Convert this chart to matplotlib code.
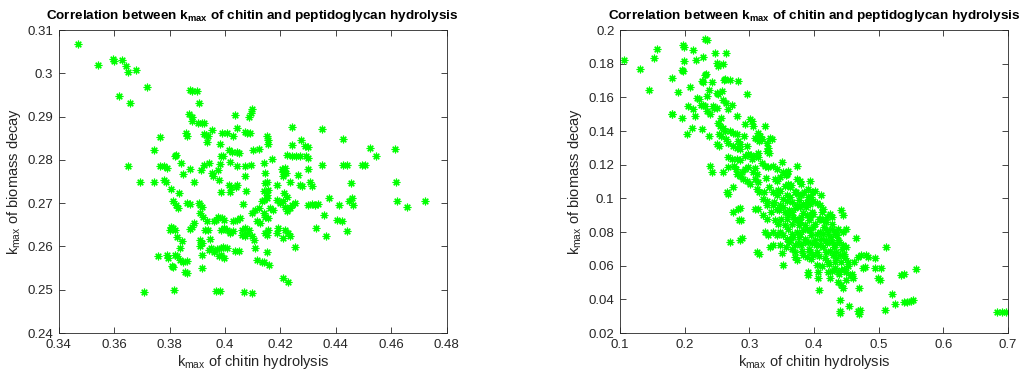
import matplotlib
matplotlib.use("Agg")
import matplotlib.pyplot as plt

plt.rcParams['font.family'] = ['Liberation Sans', 'DejaVu Sans']
plt.rcParams['mathtext.fontset'] = 'custom'
plt.rcParams['mathtext.rm'] = 'Liberation Sans'
plt.rcParams['mathtext.it'] = 'Liberation Sans'
plt.rcParams['mathtext.bf'] = 'Liberation Sans:bold'

# left panel: (chitin kmax, biomass decay kmax)
left_pts = [
    (0.3471, 0.3067), (0.354, 0.3019), (0.3597, 0.3032), (0.360, 0.3029), (0.3627, 0.3030),
    (0.3643, 0.3018), (0.365, 0.3003), (0.3678, 0.3008), (0.3617, 0.2948), (0.3659, 0.2931),
    (0.3718, 0.2968), (0.365, 0.2786), (0.3692, 0.2748), (0.3744, 0.2822), (0.3767, 0.2853),
    (0.3744, 0.2750), (0.3765, 0.2785), (0.378, 0.2785), (0.3792, 0.2782), (0.3779, 0.2753),
    (0.3786, 0.2750), (0.3804, 0.2733), (0.3822, 0.2812), (0.3818, 0.2808), (0.3834, 0.2723),
    (0.384, 0.2792), (0.385, 0.2768), (0.386, 0.2862), (0.3862, 0.2855), (0.3871, 0.2906),
    (0.388, 0.2899), (0.3882, 0.2890), (0.3873, 0.2778), (0.3874, 0.2961), (0.388, 0.2960),
    (0.3898, 0.2958), (0.3908, 0.2931), (0.3903, 0.2885), (0.3916, 0.2886), (0.3925, 0.2886),
    (0.3888, 0.2750), (0.3915, 0.2777), (0.3925, 0.2787), (0.393, 0.2858), (0.394, 0.2854),
    (0.3934, 0.2842), (0.3925, 0.2860), (0.3953, 0.2869), (0.3944, 0.2793), (0.3952, 0.2769),
    (0.3958, 0.2762), (0.3973, 0.2777), (0.3982, 0.2791), (0.398, 0.2754), (0.3982, 0.2837),
    (0.3986, 0.2808), (0.3994, 0.2808), (0.3988, 0.2862), (0.3984, 0.2725), (0.4007, 0.2862),
    (0.4014, 0.2823), (0.4024, 0.2819), (0.4043, 0.2819), (0.405, 0.2815), (0.4019, 0.2796),
    (0.403, 0.2854), (0.4035, 0.2904), (0.4043, 0.2874), (0.4045, 0.2786), (0.4015, 0.2742),
    (0.402, 0.2738), (0.404, 0.2738), (0.4045, 0.2742), (0.4019, 0.2725), (0.4072, 0.2865),
    (0.408, 0.2863), (0.409, 0.2863), (0.4074, 0.2785), (0.4074, 0.2762), (0.4093, 0.2789),
    (0.4075, 0.2729), (0.4066, 0.2698), (0.4088, 0.2900), (0.4093, 0.2908), (0.4098, 0.2918),
    (0.410, 0.2823), (0.4121, 0.2825), (0.4139, 0.2792), (0.4145, 0.2769), (0.4151, 0.2854),
    (0.4154, 0.2846), (0.4157, 0.2837), (0.4168, 0.2802), (0.4145, 0.2746), (0.4151, 0.2750),
    (0.4187, 0.2742), (0.4205, 0.2778), (0.4211, 0.2773), (0.4217, 0.2781), (0.4221, 0.2769),
    (0.4208, 0.2762), (0.4212, 0.2723), (0.4223, 0.2715), (0.4223, 0.2812), (0.4241, 0.2810),
    (0.4257, 0.2808), (0.4271, 0.2810), (0.4242, 0.2835), (0.4242, 0.2875), (0.4234, 0.2750),
    (0.4265, 0.2765), (0.4271, 0.2742), (0.4277, 0.2740), (0.4273, 0.2846), (0.4289, 0.2832),
    (0.4301, 0.2830), (0.4292, 0.2808), (0.4301, 0.2805), (0.4301, 0.2778), (0.4307, 0.2748),
    (0.4313, 0.2740), (0.435, 0.2871), (0.435, 0.2787), (0.4427, 0.2848), (0.4427, 0.2787),
    (0.4439, 0.2787), (0.4455, 0.2746), (0.4494, 0.2787), (0.4506, 0.2787), (0.4524, 0.2827),
    (0.4544, 0.2808), (0.4612, 0.2825), (0.4618, 0.2748), (0.4621, 0.2704), (0.4655, 0.2692),
    (0.4722, 0.2704), (0.4377, 0.2713), (0.4358, 0.2672), (0.4329, 0.2642), (0.4365, 0.2623),
    (0.4413, 0.2696), (0.4406, 0.2662), (0.4421, 0.2659), (0.4441, 0.2636), (0.4449, 0.2704),
    (0.4463, 0.2696), (0.4457, 0.2712), (0.4301, 0.2696), (0.4313, 0.2698), (0.4325, 0.2696),
    (0.4337, 0.2698), (0.4254, 0.2598), (0.4211, 0.2527), (0.4229, 0.2517), (0.4160, 0.2558),
    (0.4132, 0.2565), (0.4114, 0.2568), (0.4139, 0.2563), (0.4151, 0.2588), (0.411, 0.2596),
    (0.4097, 0.2623), (0.4103, 0.2615),
    (0.3814, 0.2704), (0.3823, 0.2696), (0.3832, 0.2688), (0.3862, 0.2700), (0.3874, 0.2699),
    (0.3807, 0.2646), (0.3814, 0.2642), (0.382, 0.2638), (0.3802, 0.2638), (0.3826, 0.2621),
    (0.3844, 0.2612), (0.3838, 0.2596), (0.379, 0.2581), (0.3796, 0.2573), (0.376, 0.2577),
    (0.382, 0.2581), (0.3826, 0.2577), (0.3808, 0.2554), (0.3814, 0.2552), (0.3838, 0.2569),
    (0.385, 0.2565), (0.3862, 0.2566), (0.3856, 0.2542), (0.3862, 0.2538), (0.388, 0.2646),
    (0.3874, 0.2640), (0.3888, 0.2654), (0.3906, 0.2700), (0.391, 0.2696), (0.3916, 0.2692),
    (0.391, 0.2677), (0.3922, 0.2669), (0.3934, 0.2658), (0.3928, 0.2638), (0.394, 0.2638),
    (0.391, 0.2615), (0.3916, 0.2609), (0.391, 0.2600), (0.3916, 0.2581), (0.3916, 0.2550),
    (0.3946, 0.2617), (0.3942, 0.2592), (0.3948, 0.2596), (0.396, 0.2588), (0.3972, 0.2594),
    (0.3978, 0.2577), (0.3984, 0.2581), (0.3996, 0.2573), (0.3984, 0.2596), (0.3994, 0.2598),
    (0.4007, 0.2596), (0.396, 0.2658), (0.3967, 0.2662), (0.3976, 0.2669), (0.3988, 0.2665),
    (0.3998, 0.2662), (0.3984, 0.2638), (0.3996, 0.2642), (0.4007, 0.2638), (0.4019, 0.2631),
    (0.403, 0.2635), (0.403, 0.2658), (0.4043, 0.2662), (0.4055, 0.2665), (0.4037, 0.2590),
    (0.4049, 0.2589), (0.4061, 0.2638), (0.4073, 0.2642), (0.4085, 0.2638), (0.4061, 0.2627),
    (0.4073, 0.2623), (0.4079, 0.2631), (0.4097, 0.2677), (0.411, 0.2685), (0.4121, 0.2688),
    (0.4114, 0.2658), (0.4126, 0.2654), (0.4132, 0.2704), (0.4139, 0.2708), (0.4151, 0.2712),
    (0.4139, 0.2677), (0.4145, 0.2669), (0.4157, 0.2665), (0.4139, 0.2727), (0.4151, 0.2719),
    (0.4157, 0.2731), (0.4163, 0.2688), (0.4173, 0.2685), (0.4145, 0.2631), (0.4151, 0.2627),
    (0.4157, 0.2638), (0.4187, 0.2708), (0.4199, 0.2700), (0.4211, 0.2704), (0.4193, 0.2642),
    (0.4189, 0.2631), (0.4217, 0.2692), (0.4223, 0.2681), (0.4235, 0.2688), (0.4229, 0.2631),
    (0.4235, 0.2623), (0.4217, 0.2638), (0.4241, 0.2696), (0.4253, 0.2700), (0.4208, 0.2619),
    (0.3706, 0.2495), (0.3816, 0.2499), (0.3968, 0.2498), (0.3982, 0.2498), (0.407, 0.2495),
    (0.4096, 0.2493),
]

# right panel, outer points
right_pts = [
    (0.1067, 0.1819), (0.131, 0.177), (0.1453, 0.1646), (0.1525, 0.1833), (0.1566, 0.1886),
    (0.1798, 0.1715), (0.1808, 0.1504), (0.1798, 0.1499), (0.1901, 0.163), (0.1953, 0.1479),
    (0.1963, 0.1764), (0.1968, 0.1754), (0.1978, 0.1911), (0.1988, 0.1901), (0.1993, 0.1813),
    (0.203, 0.138), (0.2045, 0.1548), (0.2081, 0.1662), (0.2107, 0.142), (0.2128, 0.1882),
    (0.2133, 0.1528), (0.2159, 0.1489), (0.2169, 0.1823), (0.2184, 0.1597), (0.2226, 0.1591),
    (0.2262, 0.1695), (0.2287, 0.1689), (0.2251, 0.1557), (0.2287, 0.1552), (0.2313, 0.1548),
    (0.2267, 0.141), (0.2287, 0.1839), (0.2313, 0.1735), (0.2329, 0.1741), (0.2313, 0.1945),
    (0.2339, 0.1941), (0.2339, 0.1607), (0.2339, 0.1518), (0.239, 0.1499), (0.2375, 0.1371),
    (0.238, 0.1646), (0.239, 0.1194), (0.2416, 0.1689), (0.2426, 0.1154), (0.2442, 0.1548),
    (0.2452, 0.1538), (0.2468, 0.1862), (0.2493, 0.1626), (0.2519, 0.1622), (0.2493, 0.1803),
    (0.2519, 0.1784), (0.2493, 0.1322), (0.2534, 0.1312), (0.2493, 0.1538), (0.2519, 0.1449),
    (0.2545, 0.143), (0.2555, 0.1479), (0.2534, 0.138), (0.2555, 0.1371), (0.2586, 0.1799),
    (0.257, 0.1636), (0.2596, 0.1154), (0.2601, 0.1705), (0.2627, 0.1709), (0.2632, 0.1862),
    (0.2674, 0.1528), (0.2596, 0.1587), (0.2637, 0.1567), (0.2591, 0.142), (0.2622, 0.14),
    (0.2648, 0.1036), (0.2674, 0.1026), (0.2699, 0.1705), (0.2725, 0.1557), (0.2674, 0.1243),
    (0.2725, 0.1233), (0.2741, 0.1066), (0.2761, 0.1194), (0.2792, 0.1174), (0.2699, 0.14),
    (0.2751, 0.139), (0.2803, 0.1489), (0.2823, 0.1695), (0.2803, 0.138), (0.2828, 0.1341),
    (0.2854, 0.1322), (0.2741, 0.0918), (0.2699, 0.0741), (0.2828, 0.0938), (0.2854, 0.0942),
    (0.2844, 0.0869), (0.2864, 0.0869), (0.2854, 0.0751), (0.289, 0.0765), (0.288, 0.1154),
    (0.2931, 0.1174), (0.2982, 0.1184), (0.2931, 0.144), (0.2957, 0.1617), (0.2931, 0.1253),
    (0.2982, 0.1263), (0.3034, 0.1233), (0.3008, 0.1469), (0.3034, 0.1459), (0.306, 0.143),
    (0.3085, 0.1361), (0.3111, 0.1351), (0.3152, 0.1341), (0.3188, 0.1355), (0.3137, 0.139),
    (0.3163, 0.137), (0.3096, 0.1253), (0.3132, 0.1243), (0.306, 0.1154), (0.3111, 0.1144),
    (0.3085, 0.1115), (0.3137, 0.1099), (0.3111, 0.1056), (0.3152, 0.1036), (0.3085, 0.0938),
    (0.3137, 0.0938), (0.3111, 0.0682), (0.3152, 0.0672), (0.324, 0.143), (0.3266, 0.1331),
    (0.3291, 0.1302), (0.3266, 0.1282), (0.3307, 0.1272), (0.324, 0.1194), (0.3291, 0.1184),
    (0.3317, 0.1361), (0.3343, 0.1351), (0.3317, 0.0712), (0.3369, 0.0722), (0.3214, 0.0997),
    (0.3266, 0.0987), (0.3214, 0.0899), (0.3266, 0.0879), (0.324, 0.08), (0.3291, 0.0781),
    (0.2803, 0.1144), (0.2854, 0.1135), (0.2905, 0.1115), (0.2957, 0.1105), (0.3008, 0.1086),
    (0.2674, 0.1184), (0.2803, 0.1233), (0.2854, 0.1227), (0.2637, 0.1351), (0.2674, 0.1331),
    (0.2741, 0.1312), (0.2803, 0.1302), (0.2854, 0.1292),
    (0.3369, 0.1194), (0.342, 0.1174), (0.3394, 0.1115), (0.342, 0.1105), (0.3472, 0.1125),
    (0.3369, 0.1036), (0.342, 0.1017), (0.3472, 0.1046), (0.3369, 0.0958), (0.342, 0.0938),
    (0.3472, 0.0958), (0.3394, 0.0869), (0.3446, 0.085), (0.3369, 0.08), (0.342, 0.0781),
    (0.3472, 0.08), (0.3472, 0.0722), (0.3497, 0.0673), (0.3513, 0.0604), (0.3497, 0.1214),
    (0.3523, 0.1154), (0.3575, 0.1144), (0.36, 0.1164), (0.3549, 0.1076), (0.36, 0.1086),
    (0.3626, 0.1066), (0.3523, 0.0997), (0.3575, 0.0987), (0.3626, 0.1007), (0.3549, 0.0918),
    (0.36, 0.0899), (0.3652, 0.0918), (0.3549, 0.084), (0.36, 0.082), (0.3652, 0.085),
    (0.3575, 0.0761), (0.3626, 0.0751), (0.3678, 0.0771), (0.3652, 0.0702), (0.3704, 0.0682),
    (0.3704, 0.0653), (0.374, 0.0633), (0.374, 0.1194), (0.373, 0.1115), (0.3781, 0.1105),
    (0.3806, 0.1086), (0.3704, 0.1036), (0.3755, 0.1027), (0.3806, 0.1017), (0.373, 0.0958),
    (0.3781, 0.0948), (0.3832, 0.0968), (0.3704, 0.0879), (0.3755, 0.0869), (0.3806, 0.0889),
    (0.373, 0.0801), (0.3781, 0.0791), (0.3832, 0.081), (0.3755, 0.0732), (0.3806, 0.0722),
    (0.3858, 0.0741), (0.3832, 0.0663), (0.3884, 0.0653), (0.3899, 0.0564), (0.3909, 0.0545),
    (0.3945, 0.1105), (0.3909, 0.1056), (0.3961, 0.1036), (0.4012, 0.1046), (0.3884, 0.0978),
    (0.3935, 0.0968), (0.3987, 0.0987), (0.3884, 0.0899), (0.3935, 0.0889), (0.3987, 0.0909),
    (0.3884, 0.082), (0.3935, 0.081), (0.3987, 0.083), (0.3909, 0.0741), (0.3961, 0.0732),
    (0.4012, 0.0751), (0.3935, 0.0682), (0.3987, 0.0663), (0.4038, 0.0682), (0.4038, 0.0604),
    (0.4064, 0.0564), (0.4064, 0.0525), (0.4079, 0.0456), (0.4115, 0.1017), (0.409, 0.0958),
    (0.4141, 0.0938), (0.409, 0.0879), (0.4141, 0.0869), (0.4193, 0.0889), (0.409, 0.0801),
    (0.4141, 0.0791), (0.4193, 0.081), (0.409, 0.0722), (0.4141, 0.0712), (0.4193, 0.0732),
    (0.4167, 0.0643), (0.4218, 0.0623), (0.4218, 0.0564), (0.4254, 0.0525), (0.4244, 0.0909),
    (0.427, 0.0889), (0.427, 0.082), (0.4321, 0.0801), (0.4373, 0.082), (0.427, 0.0741),
    (0.4321, 0.0722), (0.4373, 0.0751), (0.4295, 0.0663), (0.4347, 0.0643), (0.4398, 0.0663),
    (0.4321, 0.0584), (0.4373, 0.0564), (0.4424, 0.0574), (0.4373, 0.0505), (0.4424, 0.0486),
    (0.445, 0.0466), (0.4399, 0.0397), (0.4399, 0.0328), (0.4409, 0.0318), (0.4424, 0.0929),
    (0.445, 0.0899), (0.445, 0.0801), (0.4491, 0.082), (0.445, 0.0722), (0.4501, 0.0712),
    (0.4476, 0.0643), (0.4527, 0.0623), (0.4501, 0.0564), (0.4553, 0.0545), (0.4501, 0.0515),
    (0.4542, 0.0358), (0.4645, 0.0765), (0.4682, 0.0653), (0.4733, 0.0663), (0.4697, 0.0466),
    (0.4605, 0.0525), (0.4682, 0.0328), (0.4707, 0.0338), (0.4697, 0.0313), (0.4759, 0.0584),
    (0.4785, 0.0594), (0.481, 0.0663), (0.4836, 0.0653), (0.4939, 0.0643), (0.4939, 0.0584),
    (0.4991, 0.0525), (0.5016, 0.0515), (0.5042, 0.0584), (0.5109, 0.0712), (0.5093, 0.0338),
    (0.5207, 0.043), (0.5249, 0.0371), (0.5352, 0.0545), (0.5392, 0.0553), (0.5387, 0.0383),
    (0.5439, 0.0383), (0.5505, 0.0391), (0.5531, 0.0397), (0.5583, 0.058), (0.6829, 0.0323),
    (0.6911, 0.0323), (0.6963, 0.0325),
]

# right panel, extra points filling the dense core
right_core = [
    (0.345, 0.105), (0.352, 0.095), (0.358, 0.102), (0.362, 0.093), (0.366, 0.098),
    (0.368, 0.089), (0.371, 0.094), (0.376, 0.099), (0.379, 0.086), (0.383, 0.091),
    (0.386, 0.084), (0.388, 0.095), (0.392, 0.087), (0.395, 0.078), (0.397, 0.092),
    (0.402, 0.085), (0.405, 0.079), (0.407, 0.088), (0.411, 0.076), (0.415, 0.083),
    (0.418, 0.075), (0.421, 0.079), (0.424, 0.069), (0.426, 0.077), (0.431, 0.071),
    (0.434, 0.068), (0.436, 0.078), (0.441, 0.062), (0.443, 0.070), (0.447, 0.058),
    (0.352, 0.078), (0.356, 0.071), (0.362, 0.074), (0.366, 0.079), (0.371, 0.072),
    (0.377, 0.077), (0.381, 0.069), (0.386, 0.076), (0.392, 0.070), (0.396, 0.064),
    (0.403, 0.072), (0.408, 0.066), (0.413, 0.060), (0.419, 0.068), (0.423, 0.061),
    (0.428, 0.057), (0.433, 0.062), (0.438, 0.055), (0.346, 0.093), (0.349, 0.088),
    (0.338, 0.098), (0.333, 0.092), (0.331, 0.107), (0.326, 0.112), (0.319, 0.121),
    (0.314, 0.127), (0.309, 0.118), (0.302, 0.126), (0.297, 0.131), (0.292, 0.137),
    (0.322, 0.104), (0.328, 0.096), (0.356, 0.114), (0.365, 0.108), (0.372, 0.104),
    (0.384, 0.104), (0.396, 0.101), (0.358, 0.088), (0.377, 0.084), (0.391, 0.101),
    (0.412, 0.092), (0.405, 0.097), (0.418, 0.086), (0.428, 0.085), (0.433, 0.079),
    (0.439, 0.074), (0.446, 0.067), (0.452, 0.060), (0.458, 0.055), (0.462, 0.062),
]

title = r'Correlation between k$_{\mathbf{max}}$ of chitin and peptidoglycan hydrolysis'
xlabel = r'k$_{\mathrm{max}}$ of chitin hydrolysis'
ylabel = r'k$_{\mathrm{max}}$ of biomass decay'

left_xlim, left_ylim = (0.34, 0.48), (0.24, 0.31)
left_xticks = [0.34, 0.36, 0.38, 0.40, 0.42, 0.44, 0.46, 0.48]
left_xticklabels = ['0.34', '0.36', '0.38', '0.4', '0.42', '0.44', '0.46', '0.48']
left_yticks = [0.24, 0.25, 0.26, 0.27, 0.28, 0.29, 0.30, 0.31]
left_yticklabels = ['0.24', '0.25', '0.26', '0.27', '0.28', '0.29', '0.3', '0.31']

right_xlim, right_ylim = (0.1, 0.7), (0.02, 0.2)
right_xticks = [0.1, 0.2, 0.3, 0.4, 0.5, 0.6, 0.7]
right_xticklabels = ['0.1', '0.2', '0.3', '0.4', '0.5', '0.6', '0.7']
right_yticks = [0.02, 0.04, 0.06, 0.08, 0.10, 0.12, 0.14, 0.16, 0.18, 0.20]
right_yticklabels = ['0.02', '0.04', '0.06', '0.08', '0.1', '0.12', '0.14', '0.16', '0.18', '0.2']

fig = plt.figure(figsize=(10.21, 3.78), dpi=100)
ax1 = fig.add_axes([0.0575, 0.119, 0.380, 0.8016])
ax2 = fig.add_axes([0.6073, 0.119, 0.380, 0.8016])

panels = [
    (ax1, left_pts, left_xlim, left_ylim, left_xticks, left_xticklabels, left_yticks, left_yticklabels),
    (ax2, right_pts + right_core, right_xlim, right_ylim, right_xticks, right_xticklabels,
     right_yticks, right_yticklabels),
]

grey = '#262626'
for ax, pts, xl, yl, xt, xtl, yt, ytl in panels:
    xs = [p[0] for p in pts]
    ys = [p[1] for p in pts]
    ax.plot(xs, ys, linestyle='none', marker=(8, 2, 0), markersize=5.5,
            markeredgewidth=0.85, color=(0, 1, 0))
    ax.set_xlim(xl)
    ax.set_ylim(yl)
    ax.set_xticks(xt)
    ax.set_xticklabels(xtl)
    ax.set_yticks(yt)
    ax.set_yticklabels(ytl)
    ax.tick_params(direction='in', top=True, right=True, length=4, width=0.6,
                   colors=grey, labelsize=9.5, pad=4)
    for s in ax.spines.values():
        s.set_linewidth(0.6)
        s.set_color(grey)
    ax.set_title(title, fontsize=9.7, fontweight='bold', pad=8)
    ax.set_xlabel(xlabel, fontsize=10.5, color=grey, labelpad=2)
    ax.set_ylabel(ylabel, fontsize=10.5, color=grey, labelpad=3)

fig.savefig('out.png', dpi=100)
